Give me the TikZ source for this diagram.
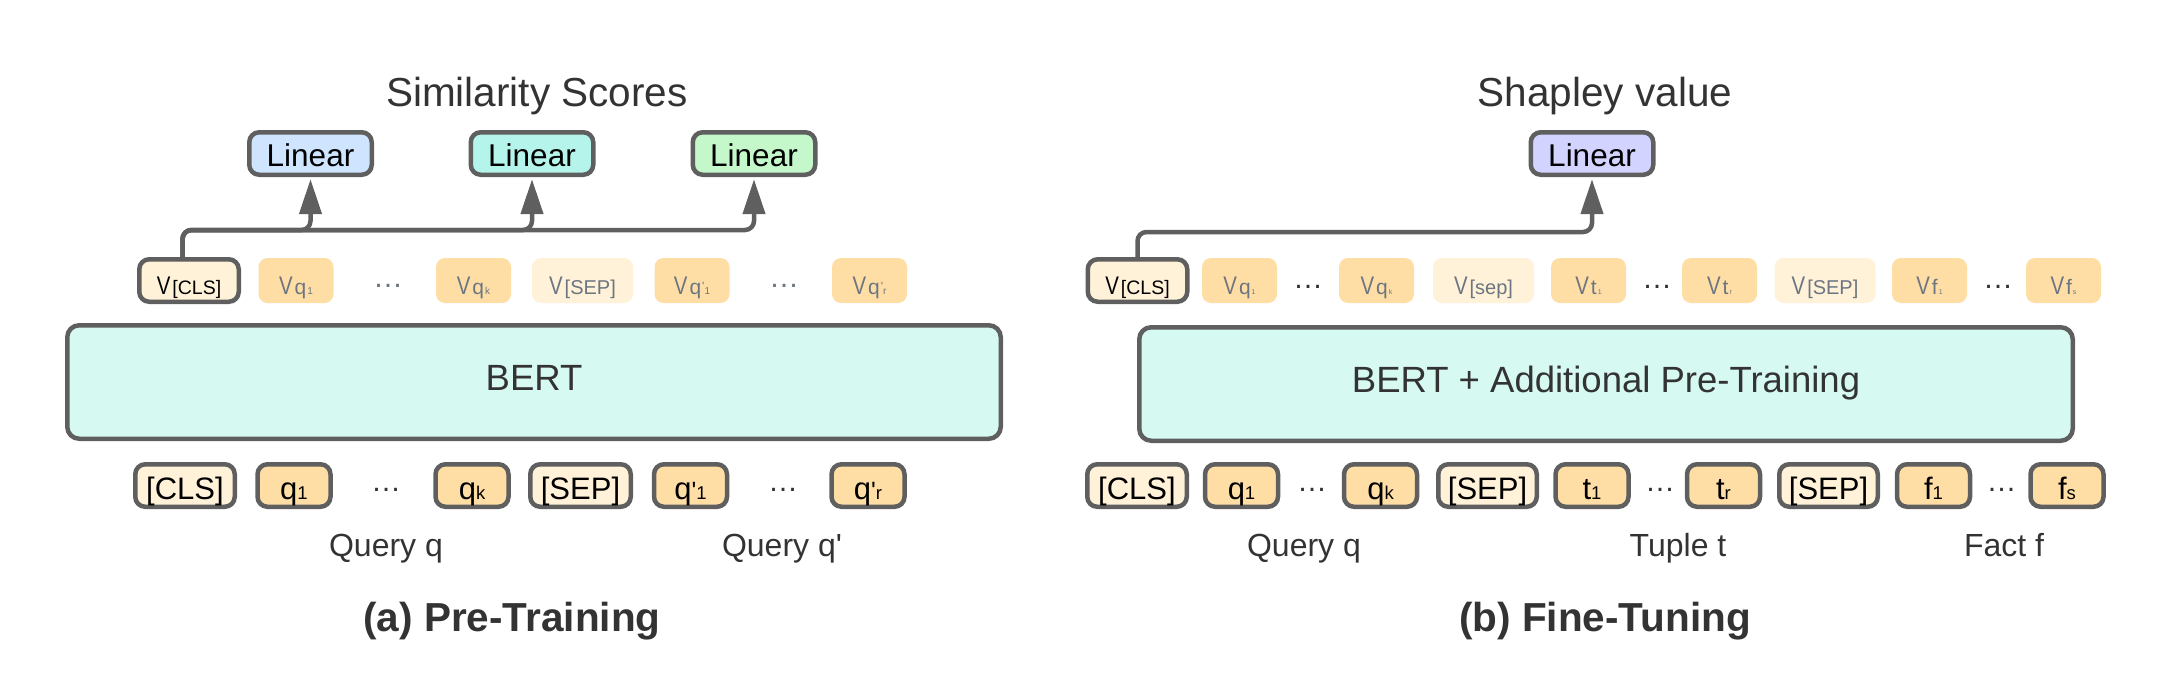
\documentclass[tikz,border=0pt]{standalone}
\usepackage{fontspec}
\setmainfont{Liberation Sans}
\usepackage{graphicx}
\usetikzlibrary{arrows.meta,calc}
\definecolor{bcol}{RGB}{95,95,95}
\definecolor{linblue}{RGB}{207,228,255}
\definecolor{linteal}{RGB}{181,244,234}
\definecolor{lingreen}{RGB}{196,247,201}
\definecolor{linpurple}{RGB}{210,211,255}
\definecolor{bertfill}{RGB}{214,249,242}
\definecolor{tokorange}{RGB}{255,222,166}
\definecolor{tokcream}{RGB}{255,242,217}
\definecolor{vgray}{RGB}{108,117,130}
\definecolor{darktext}{RGB}{51,51,51}
\newcommand{\myfs}[1]{\fontsize{#1}{#1}\selectfont}
\newcommand{\nV}{{\myfs{25.5}\scalebox{0.8}[1]{V}}\hspace{2pt}}
\newcommand{\sq}{\textquotesingle}
\begin{document}
\begin{tikzpicture}[x=1pt,y=-1pt,
  boxbase/.style={draw=bcol,line width=4.5pt,rounded corners=10pt,inner sep=0pt,text depth=0pt},
  linbox/.style={boxbase,minimum width=122.5pt,minimum height=42.5pt,text height=26pt,font={\myfs{31.5}},text=black},
  tokbox/.style={boxbase,fill=tokorange,minimum width=73pt,minimum height=42.5pt,text height=27pt,font={\myfs{31}},text=black},
  septok/.style={tokbox,fill=tokcream,minimum width=99.5pt},
  vtok/.style={fill=tokorange,rounded corners=9pt,inner sep=0pt,minimum width=75pt,minimum height=45pt,text height=27pt,text depth=0pt,text=vgray,font={\myfs{21}}},
  vseptok/.style={vtok,fill=tokcream,minimum width=101pt},
  vclstok/.style={boxbase,fill=tokcream,minimum width=99.5pt,minimum height=42.5pt,text height=27pt,text=black,font={\myfs{21}}},
  bertbox/.style={boxbase,fill=bertfill,rounded corners=12pt,minimum width=933.5pt,minimum height=113.5pt,text height=16pt,font={\myfs{36.5}},text=darktext},
  dotstext/.style={font={\myfs{30}},inner sep=0pt,text height=3.1pt,text depth=0pt,text=darktext},
  titletext/.style={font={\myfs{40.5}},text=darktext,anchor=base,inner sep=0pt},
  labtext/.style={font={\myfs{32}},text=darktext,anchor=base,inner sep=0pt},
  captext/.style={font={\myfs{40.5}\bfseries},text=darktext,anchor=base,inner sep=0pt},
  conn/.style={draw=bcol,line width=4.5pt,rounded corners=9pt,-{Triangle[length=35pt,width=22pt]},shorten >=2.2pt}
]
\useasboundingbox (0,0) rectangle (2171,694);

% ---------- titles ----------
\node[titletext] (simt) at (537,106.5) {Similarity Scores};
\node[titletext] (shapt) at (1605,106) {Shapley value};

% ---------- linear heads ----------
\node[linbox,fill=linblue] (lin1) at (310.5,153.5) {Linear};
\node[linbox,fill=linteal] (lin2) at (532,153.5) {Linear};
\node[linbox,fill=lingreen] (lin3) at (754,153.5) {Linear};
\node[linbox,fill=linpurple] (lin4) at (1592,153.5) {Linear};

% ---------- left output vectors ----------
\node[vclstok] (vclsL) at (189,280.5) {\nV{\myfs{19.5}[CLS]}};
\node[vtok] (vq1L) at (296,280.5) {\nV{\myfs{21}q}\hspace{1pt}{\myfs{10}1}};
\node[dotstext,text=vgray] (vdotsL1) at (388,286) {…};
\node[vtok] (vqkL) at (473.5,280.5) {\nV{\myfs{21}q}\hspace{1pt}{\myfs{10}k}};
\node[vseptok] (vsepL) at (582.5,280.5) {\nV{\myfs{20}[SEP]}};
\node[vtok] (vqp1L) at (692,280.5) {\nV{\myfs{21}q}\hspace{1pt}{\myfs{12}\raisebox{4pt}{\sq}}{\myfs{10}1}};
\node[dotstext,text=vgray] (vdotsL2) at (784,286) {…};
\node[vtok] (vqprL) at (869.5,280.5) {\nV{\myfs{21}q}\hspace{1pt}{\myfs{12}\raisebox{4pt}{\sq}}{\myfs{10}r}};

% ---------- right output vectors ----------
\node[vclstok] (vclsR) at (1137.5,280.5) {\nV{\myfs{19.5}[CLS]}};
\node[vtok] (vq1R) at (1239.5,280.5) {\nV{\myfs{21}q}\hspace{1pt}{\myfs{7}1}};
\node[dotstext] (vdotsR1) at (1308,287) {…};
\node[vtok] (vqkR) at (1376.5,280.5) {\nV{\myfs{21}q}\hspace{1pt}{\myfs{7}k}};
\node[vseptok] (vsep1R) at (1483.5,280.5) {\nV{\myfs{20}[sep]}};
\node[vtok] (vt1R) at (1588.5,280.5) {\nV{\myfs{21}t}\hspace{1pt}{\myfs{7}1}};
\node[dotstext] (vdotsR2) at (1657,287) {…};
\node[vtok] (vtrR) at (1719.5,280.5) {\nV{\myfs{21}t}\hspace{1pt}{\myfs{7}r}};
\node[vseptok] (vsep2R) at (1825,280.5) {\nV{\myfs{20}[SEP]}};
\node[vtok] (vf1R) at (1929.5,280.5) {\nV{\myfs{21}f}\hspace{1pt}{\myfs{7}1}};
\node[dotstext] (vdotsR3) at (1998,287) {…};
\node[vtok] (vfsR) at (2063.5,280.5) {\nV{\myfs{21}f}\hspace{1pt}{\myfs{7}s}};

% ---------- encoders ----------
\node[bertbox] (bertL) at (534,382) {BERT};
\node[bertbox] (bertR) at (1606,384) {BERT + Additional Pre-Training};

% ---------- left inputs ----------
\node[septok] (clsL) at (185,485.5) {[CLS]};
\node[tokbox] (q1L) at (294,485.5) {q{\myfs{18.5}1}};
\node[dotstext] (dotsL1) at (386,490) {…};
\node[tokbox] (qkL) at (472,485.5) {q{\myfs{18.5}k}};
\node[septok,minimum width=100.5pt] (sepL) at (580.5,485.5) {[SEP]};
\node[tokbox] (qp1L) at (690.5,485.5) {q{\myfs{25}\sq}{\myfs{18.5}1}};
\node[dotstext] (dotsL2) at (783,490) {…};
\node[tokbox] (qprL) at (868,485.5) {q{\myfs{25}\sq}{\myfs{18.5}r}};

% ---------- right inputs ----------
\node[septok] (clsR) at (1137,485.5) {[CLS]};
\node[tokbox] (q1R) at (1241.5,485.5) {q{\myfs{18.5}1}};
\node[dotstext] (dotsR1) at (1312,490) {…};
\node[tokbox] (qkR) at (1380.5,485.5) {q{\myfs{18.5}k}};
\node[septok,minimum width=98.5pt] (sep1R) at (1487.5,485.5) {[SEP]};
\node[tokbox] (t1R) at (1592,485.5) {t{\myfs{18.5}1}};
\node[dotstext] (dotsR2) at (1660,490) {…};
\node[tokbox] (trR) at (1723.5,485.5) {t{\myfs{18.5}r}};
\node[septok,minimum width=98.5pt] (sep2R) at (1828.5,485.5) {[SEP]};
\node[tokbox] (f1R) at (1933.5,485.5) {f{\myfs{18.5}1}};
\node[dotstext] (dotsR3) at (2001.5,490) {…};
\node[tokbox] (fsR) at (2067,485.5) {f{\myfs{18.5}s}};

% ---------- labels ----------
\node[labtext] (qlabL) at (386,556) {Query q};
\node[labtext] (qplab) at (782,556) {Query q\sq};
\node[labtext] (qlabR) at (1304,556) {Query q};
\node[labtext] (tlab) at (1678,556) {Tuple t};
\node[labtext] (flab) at (2004,556) {Fact f};

\node[captext] (capa) at (512,631) {(a) Pre-Training};
\node[captext] (capb) at (1605,631) {(b) Fine-Tuning};

% ---------- connectors ----------
\coordinate (busL) at (0,230);
\coordinate (busR) at (0,232);
\draw[conn] ([xshift=-6.5pt]vclsL.north) |- (lin1.south |- busL) -- (lin1.south);
\draw[conn] ([xshift=-6.5pt]vclsL.north) |- (lin2.south |- busL) -- (lin2.south);
\draw[conn] ([xshift=-6.5pt]vclsL.north) |- (lin3.south |- busL) -- (lin3.south);
\draw[conn] (vclsR.north) |- (lin4.south |- busR) -- (lin4.south);
\end{tikzpicture}
\end{document}
